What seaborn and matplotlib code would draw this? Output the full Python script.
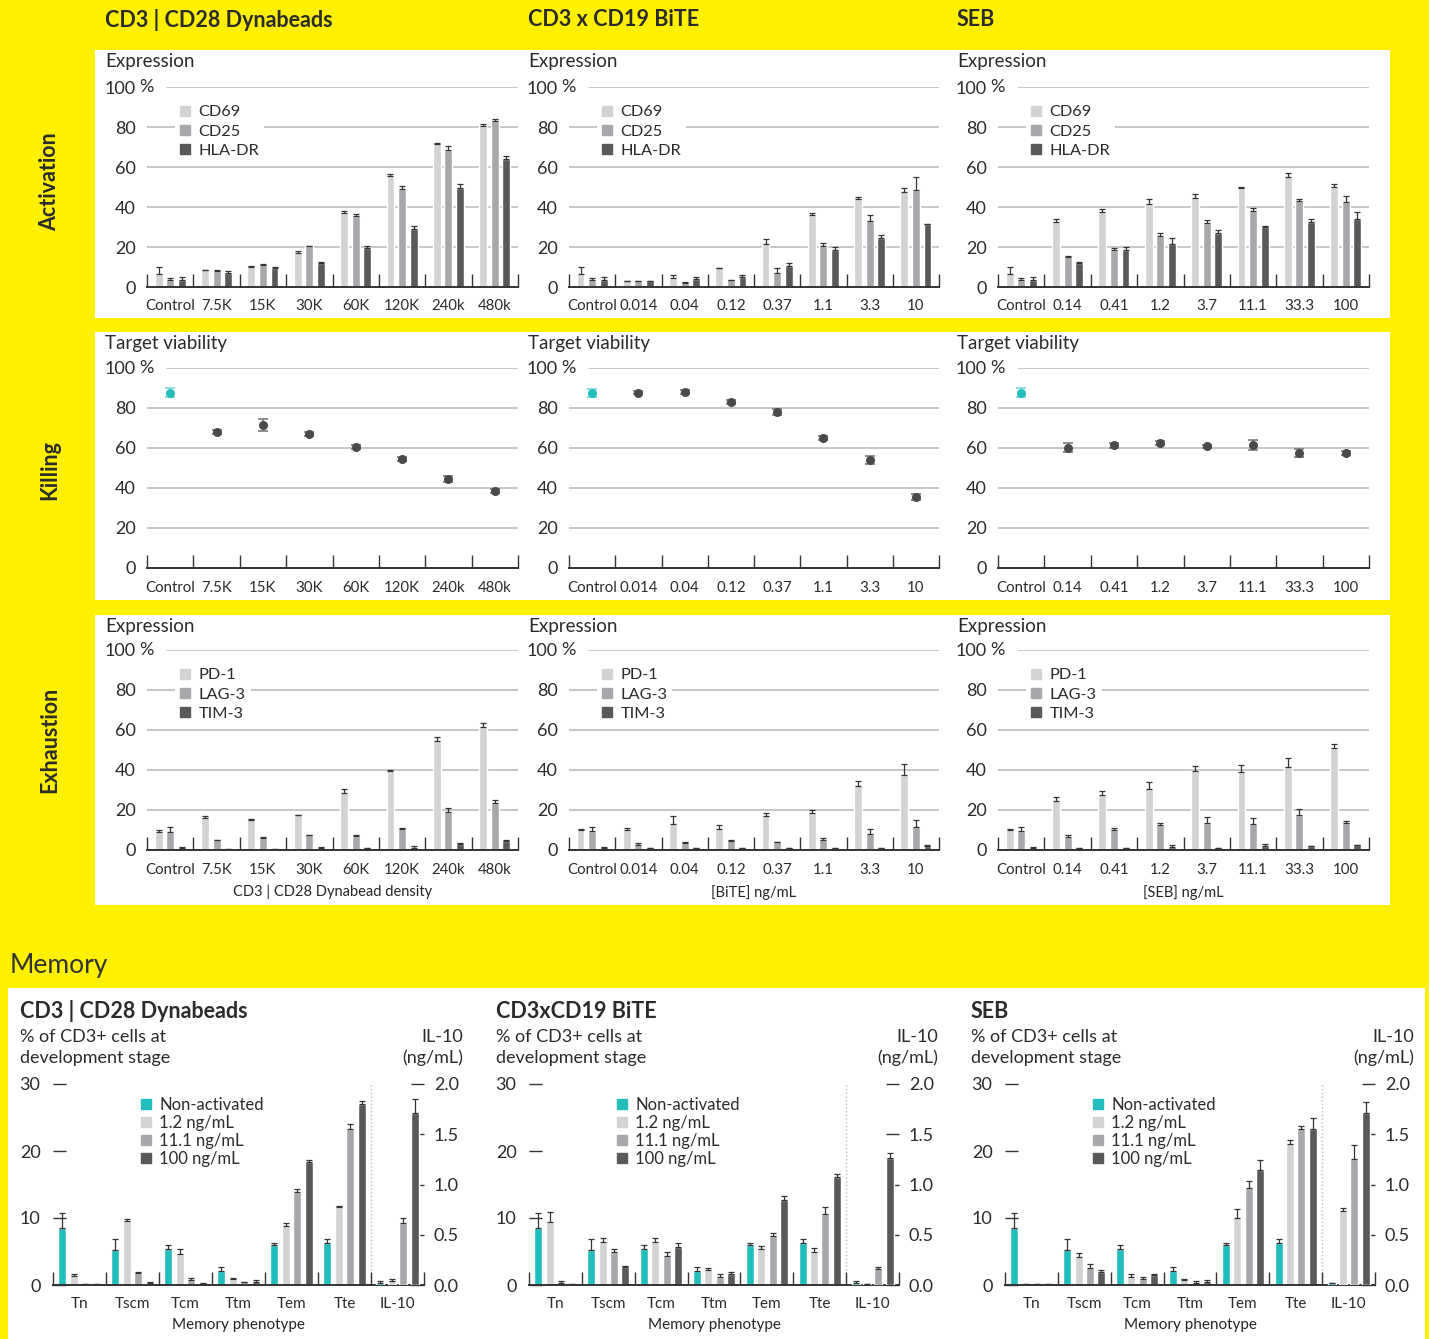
import numpy as np
import pandas as pd
import seaborn as sns
import matplotlib.pyplot as plt
from matplotlib.patches import Rectangle
from matplotlib.lines import Line2D
from matplotlib.transforms import blended_transform_factory

W, H = 1429, 1339

# ---- categories ----
beads_cats = ['Control', '7.5K', '15K', '30K', '60K', '120K', '240k', '480k']
bite_cats = ['Control', '0.014', '0.04', '0.12', '0.37', '1.1', '3.3', '10']
seb_cats = ['Control', '0.14', '0.41', '1.2', '3.7', '11.1', '33.3', '100']
act_markers = ['CD69', 'CD25', 'HLA-DR']
exh_markers = ['PD-1', 'LAG-3', 'TIM-3']

# ---- activation (% expression) ----
beads_cd69 = [6.5, 8.3, 9.8, 17.0, 37.0, 55.5, 71.5, 80.5]
beads_cd69_err = [3.3, 0.3, 0.6, 1.2, 1.2, 1.2, 0.5, 1.2]
beads_cd25 = [3.5, 7.8, 11.0, 20.3, 35.5, 49.0, 68.5, 83.0]
beads_cd25_err = [0.8, 0.5, 0.6, 0.3, 0.8, 1.7, 2.0, 1.0]
beads_hla = [3.5, 7.2, 9.7, 12.2, 19.6, 29.0, 49.5, 64.0]
beads_hla_err = [1.6, 0.8, 0.3, 0.3, 0.8, 1.7, 2.0, 1.3]

bite_cd69 = [6.5, 3.0, 4.5, 9.3, 21.5, 36.0, 44.0, 47.5]
bite_cd69_err = [3.3, 0.0, 1.5, 0.3, 2.5, 1.0, 1.0, 2.0]
bite_cd25 = [3.5, 2.8, 2.0, 3.5, 7.0, 20.5, 33.0, 48.5]
bite_cd25_err = [0.8, 0.0, 0.3, 0.2, 2.5, 1.5, 3.0, 6.5]
bite_hla = [3.5, 3.0, 4.0, 5.0, 10.5, 18.5, 24.5, 31.5]
bite_hla_err = [1.6, 0.0, 1.0, 1.0, 1.5, 1.5, 1.5, 0.2]

seb_cd69 = [6.5, 32.5, 37.5, 41.5, 44.5, 49.5, 55.0, 50.0]
seb_cd69_err = [3.3, 1.5, 1.3, 2.5, 2.0, 0.3, 1.8, 1.5]
seb_cd25 = [3.5, 15.0, 18.5, 25.5, 32.0, 38.0, 43.0, 42.5]
seb_cd25_err = [0.8, 0.5, 0.8, 1.5, 1.5, 1.5, 0.8, 2.8]
seb_hla = [3.5, 12.0, 18.5, 21.5, 27.0, 30.0, 32.5, 34.0]
seb_hla_err = [1.6, 0.3, 1.3, 3.0, 1.3, 0.5, 1.3, 3.5]

# ---- killing (% target viability) ----
beads_viab = [87.7, 67.8, 71.5, 66.8, 60.3, 54.3, 44.7, 38.6]
beads_viab_err = [2.2, 1.0, 3.0, 1.0, 1.0, 1.0, 1.5, 1.0]
bite_viab = [87.5, 87.7, 88.0, 83.0, 78.0, 65.0, 54.2, 35.7]
bite_viab_err = [2.2, 0.8, 0.8, 0.8, 1.3, 1.2, 2.0, 1.5]
seb_viab = [87.7, 60.2, 61.3, 62.5, 60.8, 61.6, 57.3, 57.6]
seb_viab_err = [2.2, 2.2, 1.3, 1.0, 0.8, 2.5, 2.0, 1.0]

# ---- exhaustion (% expression) ----
beads_pd1 = [8.8, 15.9, 14.9, 17.4, 28.7, 39.3, 54.5, 61.5]
beads_pd1_err = [1.2, 1.2, 0.6, 0.3, 2.0, 0.6, 2.0, 2.2]
beads_lag3 = [8.8, 5.0, 6.1, 7.3, 7.0, 10.4, 19.2, 23.7]
beads_lag3_err = [2.5, 0.2, 0.5, 0.3, 0.3, 0.5, 2.0, 1.5]
beads_tim3 = [1.0, 0.5, 0.4, 1.0, 1.0, 1.0, 3.0, 4.5]
beads_tim3_err = [0.3, 0.1, 0.1, 0.3, 0.2, 1.0, 0.3, 0.5]

bite_pd1 = [10.0, 10.0, 13.0, 10.5, 17.0, 18.5, 32.0, 37.5]
bite_pd1_err = [0.7, 0.8, 4.0, 2.0, 1.3, 1.5, 2.5, 5.5]
bite_lag3 = [9.5, 2.5, 3.5, 4.5, 4.0, 5.0, 8.0, 11.5]
bite_lag3_err = [2.0, 0.8, 0.3, 0.5, 0.2, 1.0, 2.3, 3.5]
bite_tim3 = [1.0, 0.8, 0.8, 1.0, 0.8, 1.0, 0.8, 2.0]
bite_tim3_err = [0.3, 0.0, 0.0, 0.2, 0.0, 0.2, 0.0, 0.3]

seb_pd1 = [10.0, 24.5, 27.5, 30.5, 39.5, 39.0, 41.5, 51.0]
seb_pd1_err = [0.3, 2.0, 2.2, 3.5, 2.5, 3.5, 4.5, 1.8]
seb_lag3 = [9.5, 6.5, 10.0, 12.5, 13.5, 13.0, 17.5, 13.5]
seb_lag3_err = [2.2, 0.8, 0.8, 0.8, 3.0, 3.0, 3.2, 0.8]
seb_tim3 = [1.2, 0.8, 1.0, 1.5, 0.8, 2.0, 2.0, 2.5]
seb_tim3_err = [0.3, 0.0, 0.2, 1.0, 0.0, 0.8, 0.2, 0.1]

# ---- memory (% of CD3+ cells) and IL-10 (ng/mL) ----
phenotypes = ['Tn', 'Tscm', 'Tcm', 'Ttm', 'Tem', 'Tte']
mem_conditions = ['Non-activated', '1.2 ng/mL', '11.1 ng/mL', '100 ng/mL']

mem_nonact = [8.5, 5.2, 5.4, 2.1, 5.9, 6.2]
mem_nonact_err = [2.3, 1.7, 0.5, 0.6, 0.3, 0.6]

beads_mem_12 = [1.4, 9.6, 4.7, 0.9, 8.8, 11.6]
beads_mem_12_err = [0.2, 0.2, 0.6, 0.2, 0.5, 0.2]
beads_mem_111 = [0.1, 1.8, 0.8, 0.4, 13.9, 23.3]
beads_mem_111_err = [0.0, 0.1, 0.2, 0.1, 0.4, 0.8]
beads_mem_100 = [0.1, 0.3, 0.2, 0.4, 18.4, 27.0]
beads_mem_100_err = [0.0, 0.1, 0.1, 0.3, 0.2, 0.4]
beads_il10 = [0.02, 0.04, 0.62, 1.71]
beads_il10_err = [0.02, 0.02, 0.05, 0.14]

bite_mem_12 = [9.4, 6.4, 6.4, 2.2, 5.3, 4.9]
bite_mem_12_err = [1.5, 0.6, 0.6, 0.3, 0.5, 0.6]
bite_mem_111 = [0.35, 4.9, 4.4, 1.2, 7.3, 10.6]
bite_mem_111_err = [0.3, 0.4, 0.5, 0.4, 0.4, 1.0]
bite_mem_100 = [0.1, 2.7, 5.7, 1.7, 12.7, 16.1]
bite_mem_100_err = [0.0, 0.2, 0.6, 0.3, 0.6, 0.5]
bite_il10 = [0.02, 0.01, 0.16, 1.26]
bite_il10_err = [0.02, 0.0, 0.02, 0.05]

seb_mem_12 = [0.1, 4.2, 1.2, 0.7, 10.0, 21.0]
seb_mem_12_err = [0.0, 0.6, 0.4, 0.2, 1.3, 0.7]
seb_mem_111 = [0.1, 2.5, 0.9, 0.3, 14.5, 23.3]
seb_mem_111_err = [0.0, 0.6, 0.3, 0.3, 1.0, 0.4]
seb_mem_100 = [0.1, 1.9, 1.5, 0.5, 17.2, 23.3]
seb_mem_100_err = [0.0, 0.4, 0.1, 0.2, 1.5, 1.7]
seb_il10 = [0.02, 0.74, 1.25, 1.71]
seb_il10_err = [0.0, 0.03, 0.14, 0.11]

# ---- colours ----
YELLOW = '#FFF100'
TEAL = '#22bdbd'
LIGHT, MID, DARK = '#d2d3d5', '#a7a8ab', '#58595b'
INK = '#2b2b2b'
GRID = '#b8b8b8'
gray3 = [LIGHT, MID, DARK]
mem_colors = [TEAL, LIGHT, MID, DARK]

sns.set_style('white')
plt.rcParams['font.family'] = ['Lato', 'DejaVu Sans']
plt.rcParams['text.color'] = INK
plt.rcParams['xtick.color'] = INK
plt.rcParams['ytick.color'] = INK

fig = plt.figure(figsize=(W / 100, H / 100), dpi=100, facecolor=YELLOW)


def px_axes(x0, y0, x1, y1):
    ax = fig.add_axes([x0 / W, 1 - y1 / H, (x1 - x0) / W, (y1 - y0) / H])
    ax.set_facecolor('none')
    return ax


def ftext(x, y, s, **kw):
    return fig.text(x / W, 1 - y / H, s, **kw)


# white panels
for x0, y0, x1, y1 in [(95, 50, 1390, 318), (95, 332, 1390, 600),
                       (95, 615, 1390, 905), (8, 988, 1425, 1339)]:
    fig.add_artist(Rectangle((x0 / W, 1 - y1 / H), (x1 - x0) / W, (y1 - y0) / H,
                             transform=fig.transFigure, facecolor='white',
                             edgecolor='none', zorder=0))


def add_errors(ax, errs, color='#333333'):
    conts = [c for c in ax.containers]
    for cont, err in zip(conts, errs):
        xs = [b.get_x() + b.get_width() / 2 for b in cont]
        ys = [b.get_height() for b in cont]
        ax.errorbar(xs, ys, yerr=[np.zeros(len(err)), err], fmt='none',
                    ecolor=color, elinewidth=0.9, capsize=2, capthick=0.9, zorder=4)


def style_top(ax, cats):
    n = len(cats)
    ax.set_xlim(-0.5, n - 0.5)
    ax.set_ylim(0, 100)
    ax.set_yticks([0, 20, 40, 60, 80, 100])
    ax.set_yticklabels(['0', '20', '40', '60', '80', '100'])
    ax.set_xticks(range(n))
    ax.set_xticklabels(cats)
    for s in ['top', 'right', 'left']:
        ax.spines[s].set_visible(False)
    ax.spines['bottom'].set_color('#333333')
    ax.spines['bottom'].set_linewidth(1.4)
    ax.tick_params(axis='y', length=0, pad=8, labelsize=13)
    ax.tick_params(axis='x', length=0, pad=9, labelsize=10.8)
    for yv in [20, 40, 60, 80]:
        ax.axhline(yv, color=GRID, lw=1.1, zorder=0)
    ax.axhline(100, xmin=0.054, color=GRID, lw=1.1, zorder=0)
    tr = blended_transform_factory(ax.transAxes, ax.transData)
    ax.text(-0.02, 100, '%', transform=tr, ha='left', va='center', fontsize=13)
    ax.vlines(np.arange(-0.5, n), 0, 6.5, color='#333333', lw=1, clip_on=False)
    ax.set_xlabel('')
    ax.set_ylabel('')


def bar_panel(ax, cats, series, errs, names):
    rows = []
    for name, vals in zip(names, series):
        for c, v in zip(cats, vals):
            rows.append((c, name, v))
    df = pd.DataFrame(rows, columns=['cat', 'marker', 'val'])
    sns.barplot(data=df, x='cat', y='val', hue='marker', order=cats, hue_order=names,
                palette=gray3, width=0.75, gap=0.32, errorbar=None, legend=False,
                saturation=1, ax=ax)
    add_errors(ax, errs)
    style_top(ax, cats)
    handles = [Line2D([], [], marker='s', ls='none', markersize=7.5, color=c) for c in gray3]
    ax.legend(handles, names, loc='upper left', bbox_to_anchor=(0.075, 0.935),
              frameon=True, facecolor='white', edgecolor='none', framealpha=1,
              fontsize=11.8, handlelength=0.7, handletextpad=0.45, labelspacing=0.3,
              borderpad=0.3, borderaxespad=0)


def point_panel(ax, cats, vals, errs):
    groups = ['ctrl'] + ['trt'] * (len(cats) - 1)
    df = pd.DataFrame({'cat': cats, 'val': vals, 'grp': groups})
    sns.stripplot(data=df, x='cat', y='val', hue='grp', order=cats,
                  palette={'ctrl': TEAL, 'trt': '#4a4a4c'}, jitter=False, size=6.5,
                  linewidth=0, legend=False, ax=ax, zorder=3)
    xs = np.arange(len(cats))
    ax.errorbar(xs[:1], vals[:1], yerr=errs[:1], fmt='none', ecolor='#7fd6d6',
                elinewidth=1.2, capsize=3.5, capthick=1.2, zorder=2)
    ax.errorbar(xs[1:], vals[1:], yerr=errs[1:], fmt='none', ecolor='#7a7a7c',
                elinewidth=1.2, capsize=3.5, capthick=1.2, zorder=2)
    style_top(ax, cats)


col_px = [(147, 518), (569, 939), (998, 1369)]
col_txt = [105, 528, 957]
titles = ['CD3 | CD28 Dynabeads', 'CD3 x CD19 BiTE', 'SEB']
cat_sets = [beads_cats, bite_cats, seb_cats]

act_data = [
    ([beads_cd69, beads_cd25, beads_hla], [beads_cd69_err, beads_cd25_err, beads_hla_err]),
    ([bite_cd69, bite_cd25, bite_hla], [bite_cd69_err, bite_cd25_err, bite_hla_err]),
    ([seb_cd69, seb_cd25, seb_hla], [seb_cd69_err, seb_cd25_err, seb_hla_err]),
]
kill_data = [(beads_viab, beads_viab_err), (bite_viab, bite_viab_err), (seb_viab, seb_viab_err)]
exh_data = [
    ([beads_pd1, beads_lag3, beads_tim3], [beads_pd1_err, beads_lag3_err, beads_tim3_err]),
    ([bite_pd1, bite_lag3, bite_tim3], [bite_pd1_err, bite_lag3_err, bite_tim3_err]),
    ([seb_pd1, seb_lag3, seb_tim3], [seb_pd1_err, seb_lag3_err, seb_tim3_err]),
]
exh_xlabels = ['CD3 | CD28 Dynabead density', '[BiTE] ng/mL', '[SEB] ng/mL']

for i in range(3):
    x0, x1 = col_px[i]
    ftext(col_txt[i], 20, titles[i], fontsize=15.5, fontweight='bold', va='center')

    ax = px_axes(x0, 87, x1, 287)
    bar_panel(ax, cat_sets[i], act_data[i][0], act_data[i][1], act_markers)
    ftext(col_txt[i], 62, 'Expression', fontsize=13.5, va='center')

    ax = px_axes(x0, 368, x1, 568)
    point_panel(ax, cat_sets[i], kill_data[i][0], kill_data[i][1])
    ftext(col_txt[i], 344, 'Target viability', fontsize=13.5, va='center')

    ax = px_axes(x0, 650, x1, 850)
    bar_panel(ax, cat_sets[i], exh_data[i][0], exh_data[i][1], exh_markers)
    ax.set_xlabel(exh_xlabels[i], fontsize=10.5, labelpad=6)
    ftext(col_txt[i], 626, 'Expression', fontsize=13.5, va='center')

for label, yc in [('Activation', 182), ('Killing', 470), ('Exhaustion', 740)]:
    ftext(50, yc, label, rotation=90, fontsize=15.5, fontweight='bold', ha='center', va='center')

ftext(10, 966, 'Memory', fontsize=19, fontweight='normal', va='center', color='#333333')

# ---- memory panels ----
mem_px = [(53, 424), (529, 899), (1005, 1375)]
mem_title_x = [20, 496, 971]
mem_right_x = [463, 938, 1414]
mem_titles = ['CD3 | CD28 Dynabeads', 'CD3xCD19 BiTE', 'SEB']
mem_data = [
    ([mem_nonact, beads_mem_12, beads_mem_111, beads_mem_100],
     [mem_nonact_err, beads_mem_12_err, beads_mem_111_err, beads_mem_100_err],
     beads_il10, beads_il10_err),
    ([mem_nonact, bite_mem_12, bite_mem_111, bite_mem_100],
     [mem_nonact_err, bite_mem_12_err, bite_mem_111_err, bite_mem_100_err],
     bite_il10, bite_il10_err),
    ([mem_nonact, seb_mem_12, seb_mem_111, seb_mem_100],
     [mem_nonact_err, seb_mem_12_err, seb_mem_111_err, seb_mem_100_err],
     seb_il10, seb_il10_err),
]
mem_order = phenotypes + ['IL-10']

for i in range(3):
    series, errs, il10, il10_err = mem_data[i]
    x0, x1 = mem_px[i]
    ax = px_axes(x0, 1084, x1, 1285)
    rows = []
    for cond, vals in zip(mem_conditions, series):
        for p, v in zip(phenotypes, vals):
            rows.append((p, cond, v))
    df = pd.DataFrame(rows, columns=['pheno', 'cond', 'val'])
    sns.barplot(data=df, x='pheno', y='val', hue='cond', order=mem_order,
                hue_order=mem_conditions, palette=mem_colors, width=0.86, gap=0.3,
                errorbar=None, legend=False, saturation=1, ax=ax)
    add_errors(ax, errs)

    ax2 = ax.twinx()
    df2 = pd.DataFrame({'pheno': ['IL-10'] * 4, 'cond': mem_conditions, 'val': il10})
    sns.barplot(data=df2, x='pheno', y='val', hue='cond', order=mem_order,
                hue_order=mem_conditions, palette=mem_colors, width=0.86, gap=0.3,
                errorbar=None, legend=False, saturation=1, ax=ax2)
    add_errors(ax2, [[e] for e in il10_err])

    for a in (ax, ax2):
        a.set_xlim(-0.5, len(mem_order) - 0.5)
        for s in ['top', 'right', 'left']:
            a.spines[s].set_visible(False)
        a.set_xlabel('')
        a.set_ylabel('')
    ax2.spines['bottom'].set_visible(False)
    ax.spines['bottom'].set_color('#333333')
    ax.spines['bottom'].set_linewidth(1.4)
    ax.set_ylim(0, 30)
    ax.set_yticks([0, 10, 20, 30])
    ax.tick_params(axis='y', direction='in', length=9.5, width=1, color='#333333',
                   pad=9, labelsize=13)
    ax.set_xticks(range(len(mem_order)))
    ax.set_xticklabels(mem_order)
    ax.tick_params(axis='x', length=0, pad=9, labelsize=11)
    ax2.set_ylim(0, 2)
    ax2.set_yticks([0, 0.5, 1.0, 1.5, 2.0])
    ax2.set_yticklabels(['0.0', '0.5', '1.0', '1.5', '2.0'])
    ax2.tick_params(axis='y', direction='in', length=9.5, width=1, color='#333333',
                    pad=7, labelsize=13)
    ax2.tick_params(axis='x', length=0, labelbottom=False)
    ax.vlines(np.arange(-0.5, len(mem_order)), 0, 1.9, color='#333333', lw=1, clip_on=False)
    ax.axvline(5.5, color='#bdbdbd', lw=1, ls=':', zorder=0)
    ax.set_xlabel('Memory phenotype', fontsize=11, labelpad=5)

    handles = [Line2D([], [], marker='s', ls='none', markersize=7.5, color=c) for c in mem_colors]
    ax.legend(handles, mem_conditions, loc='upper left', bbox_to_anchor=(0.235, 0.935),
              frameon=False, fontsize=12, handlelength=0.7, handletextpad=0.45,
              labelspacing=0.12, borderpad=0, borderaxespad=0)

    ftext(mem_title_x[i], 1011, mem_titles[i], fontsize=15.5, fontweight='bold', va='center')
    ftext(mem_title_x[i], 1029, '% of CD3+ cells at\ndevelopment stage', fontsize=13,
          va='top', linespacing=1.35)
    ftext(mem_right_x[i], 1029, 'IL-10\n(ng/mL)', fontsize=13, va='top', ha='right',
          linespacing=1.35)

fig.savefig('out.png', dpi=100, facecolor=YELLOW)
